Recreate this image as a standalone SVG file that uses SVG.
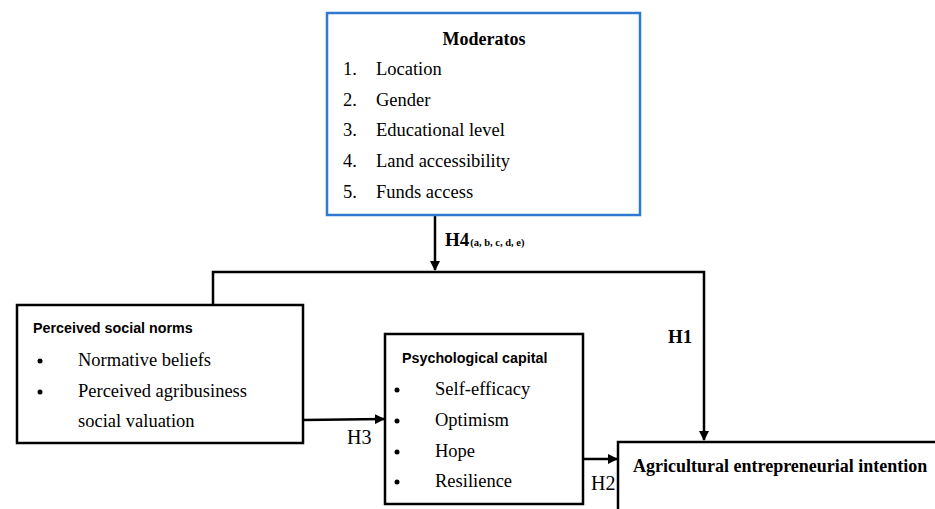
<svg xmlns="http://www.w3.org/2000/svg" width="935" height="509" viewBox="0 0 935 509">
<defs>
<marker id="ah" markerWidth="10" markerHeight="10" refX="9" refY="5" orient="auto" markerUnits="userSpaceOnUse">
<path d="M0,0 L10,5 L0,10 Z" fill="#000"/>
</marker>
</defs>
<style>
.box{fill:#fff;stroke:#000;stroke-width:2.5}
.blue{fill:#fff;stroke:#2f7ad0;stroke-width:2.5}
.s{font-family:"Liberation Serif","Times New Roman",serif;font-size:18.5px;fill:#000}
.sb{font-family:"Liberation Serif","Times New Roman",serif;font-size:18px;font-weight:bold;fill:#000}
.h{font-family:"Liberation Sans",Arial,sans-serif;font-size:14.3px;font-weight:bold;fill:#000}
.lbl{font-family:"Liberation Serif","Times New Roman",serif;font-size:19px;font-weight:bold;fill:#000}
.sub{font-family:"Liberation Serif","Times New Roman",serif;font-size:10.5px;font-weight:bold;fill:#000}
.ln{fill:none;stroke:#000;stroke-width:2.5}
</style>
<rect width="935" height="509" fill="#fff"/>
<g id="connectors">
<path class="ln" d="M213,305 L213,272 L704,272 L704,440" marker-end="url(#ah)"/>
<path class="ln" d="M435,215 L435,270" marker-end="url(#ah)"/>
<path class="ln" d="M303,420 L384,419" marker-end="url(#ah)"/>
<path class="ln" d="M583,459 L617,459" marker-end="url(#ah)"/>
<text class="lbl" x="445" y="246">H4<tspan class="sub" dx="1">(a, b, c, d, e)</tspan></text>
<text class="lbl" x="668" y="343">H1</text>
<text class="s" x="347" y="444" style="font-size:20px">H3</text>
<text class="s" x="591" y="490" style="font-size:20px">H2</text>
</g>
<g id="moderatos">
<rect class="blue" x="327" y="13" width="313" height="202"/>
<text class="sb" x="484" y="45" text-anchor="middle">Moderatos</text>
<text class="s" x="343" y="75">1.</text><text class="s" x="376" y="75">Location</text>
<text class="s" x="343" y="106">2.</text><text class="s" x="376" y="106">Gender</text>
<text class="s" x="343" y="136">3.</text><text class="s" x="376" y="136">Educational level</text>
<text class="s" x="343" y="167">4.</text><text class="s" x="376" y="167">Land accessibility</text>
<text class="s" x="343" y="198">5.</text><text class="s" x="376" y="198">Funds access</text>
</g>
<g id="social-norms">
<rect class="box" x="17" y="305" width="286" height="138"/>
<text class="h" x="33" y="333">Perceived social norms</text>
<circle cx="40" cy="361" r="2.5"/><text class="s" x="78" y="366">Normative beliefs</text>
<circle cx="40" cy="392" r="2.5"/><text class="s" x="78" y="397">Perceived agribusiness</text>
<text class="s" x="78" y="427">social valuation</text>
</g>
<g id="psych-capital">
<rect class="box" x="385" y="334" width="198" height="170"/>
<text class="h" x="402" y="363">Psychological capital</text>
<circle cx="397" cy="390" r="2.5"/><text class="s" x="435" y="395">Self-efficacy</text>
<circle cx="397" cy="421" r="2.5"/><text class="s" x="435" y="426">Optimism</text>
<circle cx="397" cy="452" r="2.5"/><text class="s" x="435" y="457">Hope</text>
<circle cx="397" cy="482" r="2.5"/><text class="s" x="435" y="487">Resilience</text>
</g>
<g id="intention">
<rect class="box" x="618" y="442" width="330" height="80"/>
<text class="sb" x="633" y="472">Agricultural entrepreneurial intention</text>
</g>
</svg>
